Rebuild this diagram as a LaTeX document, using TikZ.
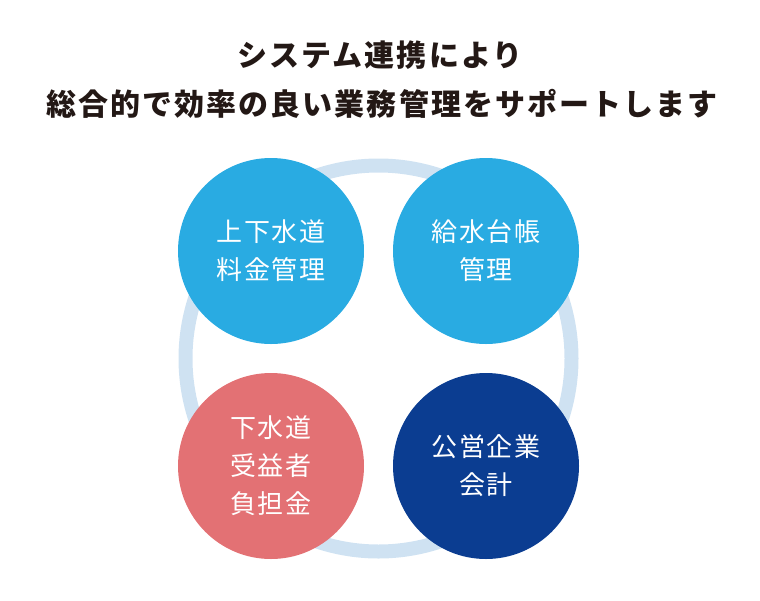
\documentclass[tikz,border=0pt]{standalone}
\usepackage{fontspec}
\newfontfamily\cjk[LetterSpace=6]{Noto Sans CJK JP}
\newfontfamily\cjkt[LetterSpace=7]{Noto Sans CJK JP}
\definecolor{ringc}{HTML}{CFE2F2}
\definecolor{skyc}{HTML}{29ABE2}
\definecolor{pinkc}{HTML}{E37174}
\definecolor{navyc}{HTML}{0B3D91}
\definecolor{titlec}{HTML}{231815}
\begin{document}
\begin{tikzpicture}[x=1pt,y=-1pt,
  bubble/.style={circle,minimum size=186pt,inner sep=0pt,text=white,align=center,
    font=\cjk\fontsize{26}{38}\selectfont},
  titletext/.style={text=titlec,font=\cjkt\bfseries\fontsize{30}{30}\selectfont,inner sep=0pt}]
\useasboundingbox (0,0) rectangle (760,600);
\node[titletext] (t1) at (380,55) {システム連携により};
\node[titletext] (t2) at (382,104) {総合的で効率の良い業務管理をサポートします};
\draw[ringc,line width=14pt] (378.5,358.5) circle[radius=193];
\node[bubble,fill=skyc] (a) at (271,251) {上下水道\\料金管理};
\node[bubble,fill=skyc] (b) at (486,251) {給水台帳\\管理};
\node[bubble,fill=pinkc] (c) at (271,466) {下水道\\受益者\\負担金};
\node[bubble,fill=navyc] (d) at (486,466) {公営企業\\会計};
\end{tikzpicture}
\end{document}
